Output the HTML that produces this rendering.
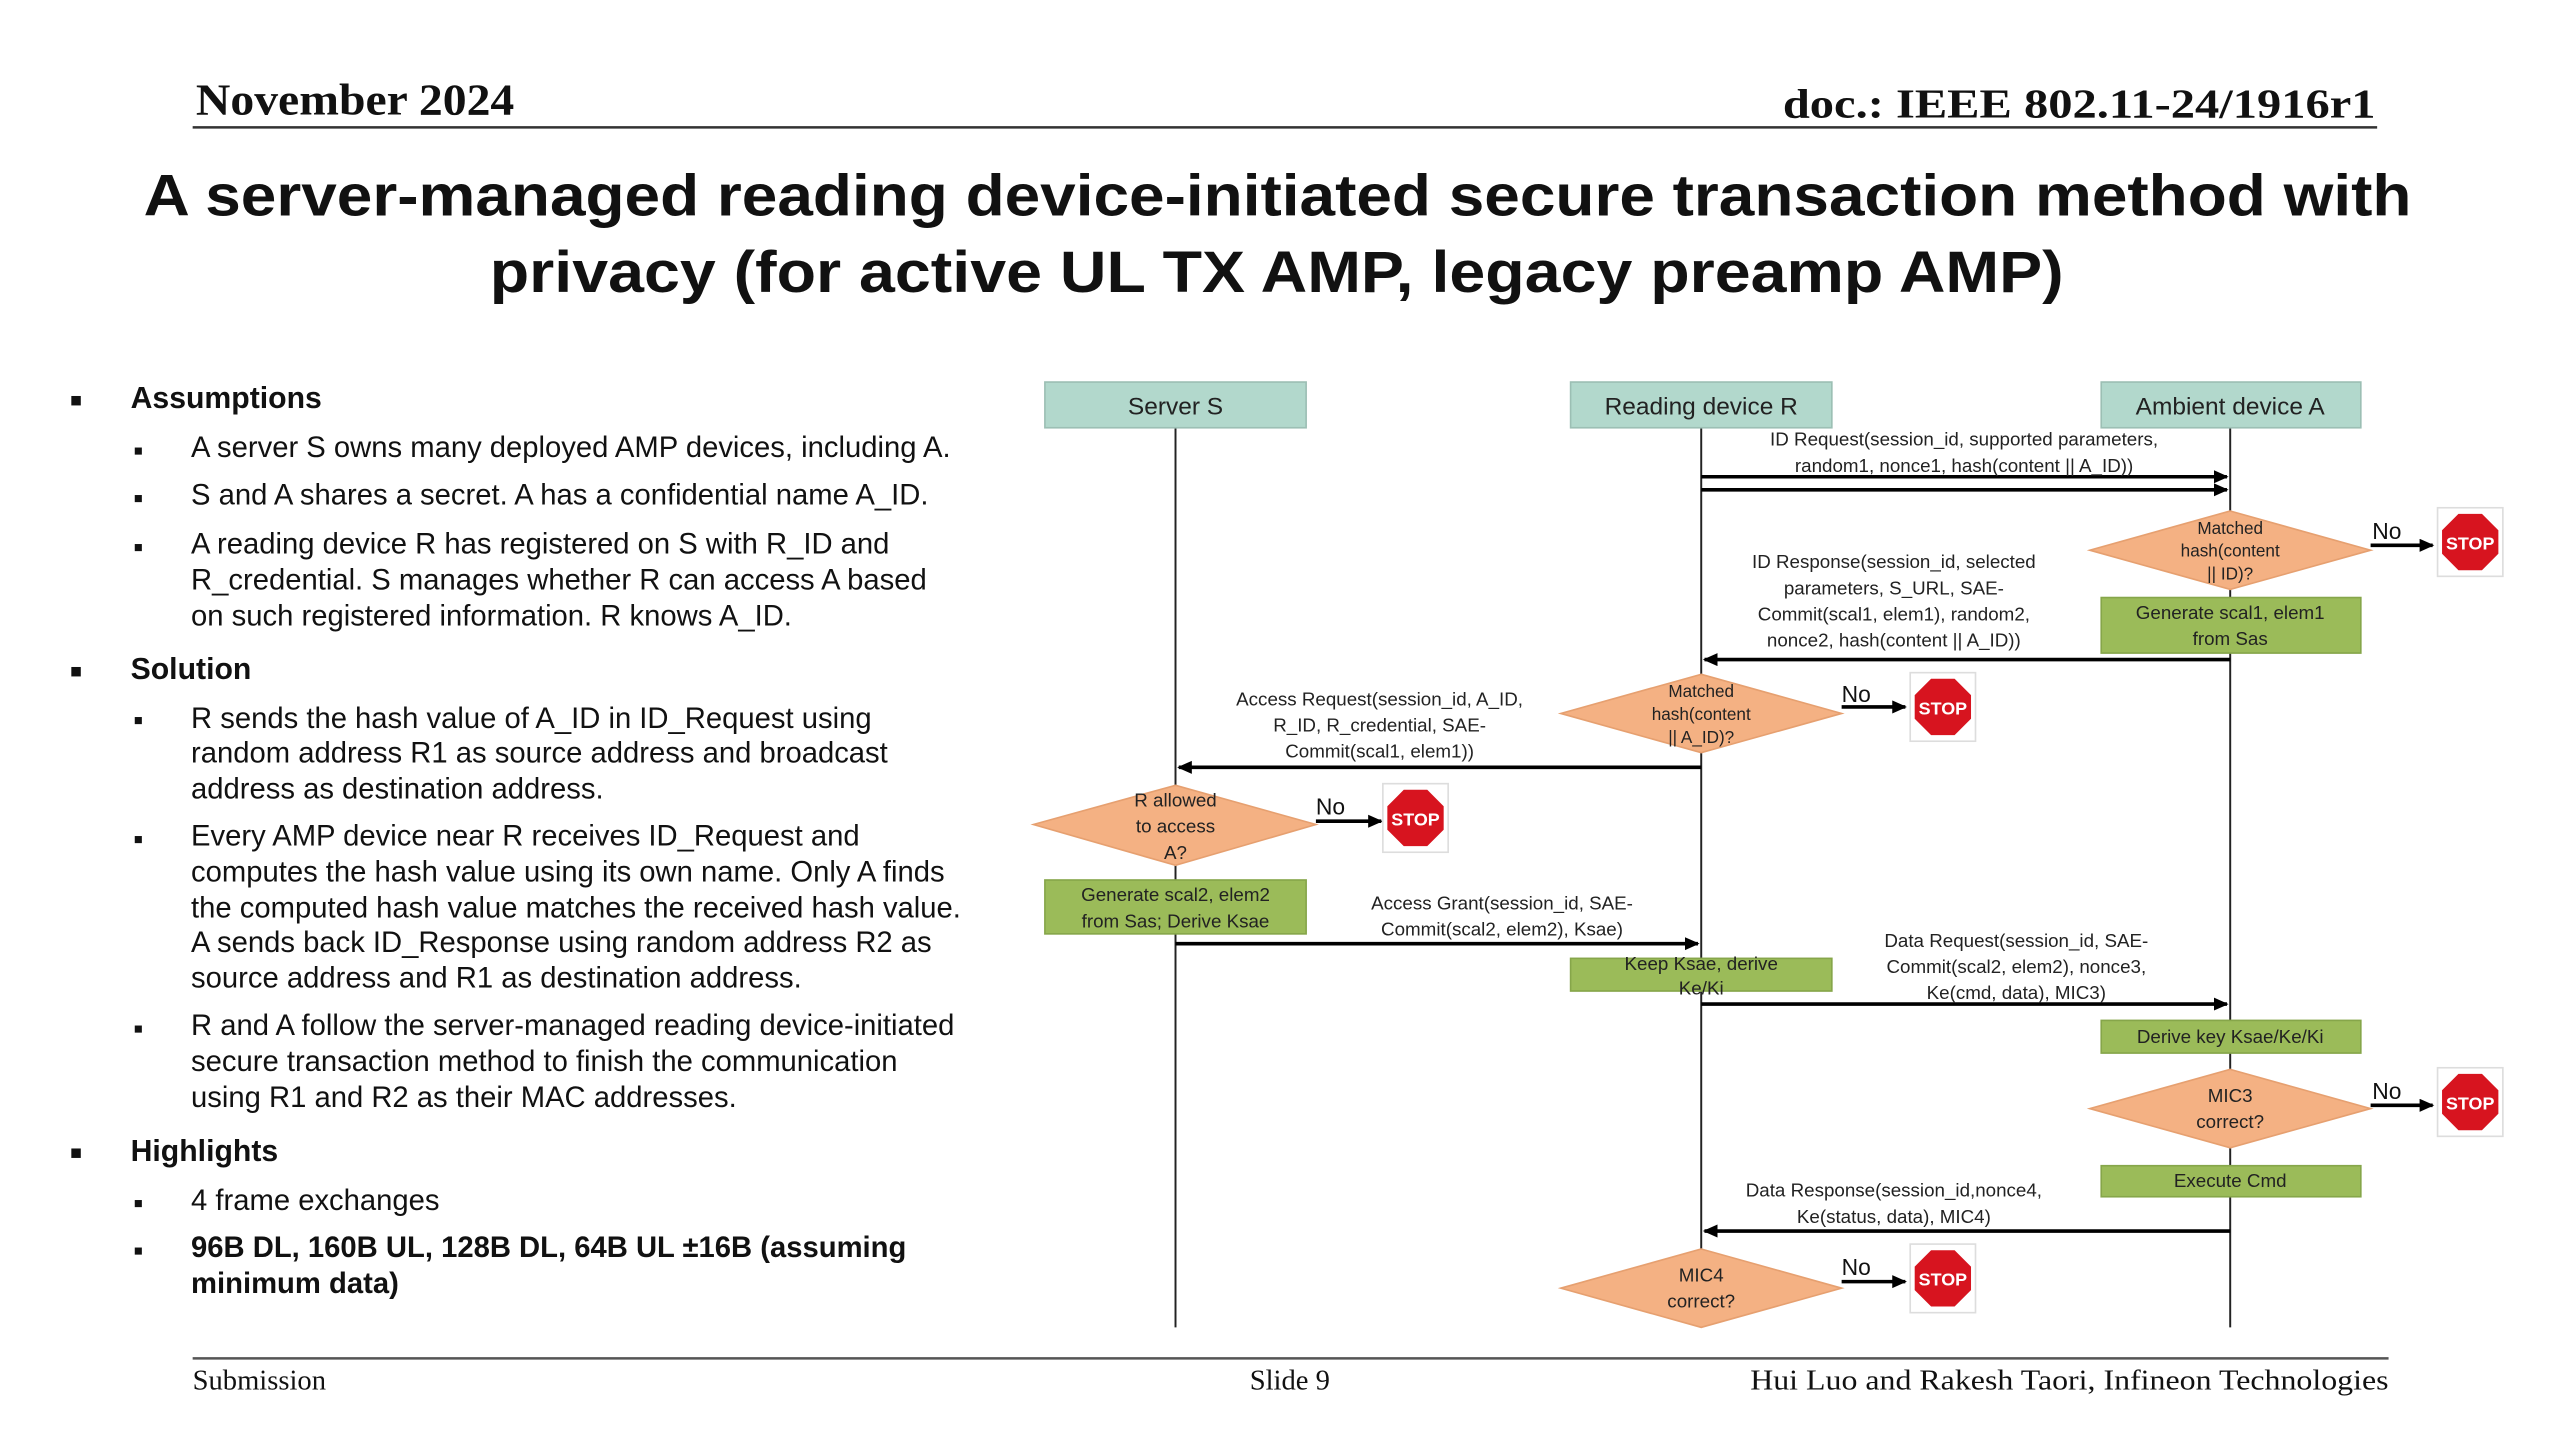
<!DOCTYPE html>
<html><head><meta charset="utf-8"><style>
html,body{margin:0;padding:0;background:#fff;}
svg{display:block;}
.s{font-family:"Liberation Sans",Arial,sans-serif;}
.r{font-family:"Liberation Serif","Times New Roman",serif;}
.d{font-family:"Liberation Sans",Arial,sans-serif;font-size:11.5px;fill:#222;}
.b{font-size:17.9px;fill:#111;}
</style></head><body>
<svg width="2560" height="1440" viewBox="0 0 1568 882" xmlns="http://www.w3.org/2000/svg">
<defs>
<marker id="ar" markerWidth="10" markerHeight="10" refX="8" refY="4" orient="auto" markerUnits="userSpaceOnUse"><path d="M0,0 L9,4 L0,8 z" fill="#000"/></marker>
<g id="stop"><rect x="-20" y="-21" width="40" height="42" fill="#fff" stroke="#ddd"/><polygon points="-7.5,-18 7.5,-18 18,-7.5 18,7.5 7.5,18 -7.5,18 -18,7.5 -18,-7.5" fill="#d7141f" stroke="#fff" stroke-width="1.5"/><text x="0" y="4.5" text-anchor="middle" font-family="Liberation Sans,Arial,sans-serif" font-weight="bold" font-size="11" fill="#fff">STOP</text></g>
</defs>
<!-- header -->
<text x="120" y="70" class="r" font-weight="bold" font-size="27" fill="#111" textLength="195" lengthAdjust="spacingAndGlyphs">November 2024</text>
<text x="1092" y="72" class="r" font-weight="bold" font-size="25" fill="#111" textLength="363" lengthAdjust="spacingAndGlyphs">doc.: IEEE 802.11-24/1916r1</text>
<line x1="118" y1="78" x2="1456" y2="78" stroke="#333" stroke-width="1.5"/>
<text x="88" y="132" class="s" font-weight="bold" font-size="36" fill="#111" textLength="1389" lengthAdjust="spacingAndGlyphs">A server-managed reading device-initiated secure transaction method with</text>
<text x="300" y="179" class="s" font-weight="bold" font-size="36" fill="#111" textLength="964" lengthAdjust="spacingAndGlyphs">privacy (for active UL TX AMP, legacy preamp AMP)</text>
<!-- left text -->
<g class="s">
<g fill="#111" font-size="12"><text x="43" y="249">■</text><text x="43" y="415">■</text><text x="43" y="710">■</text></g>
<g fill="#111" font-size="9"><text x="82" y="279">■</text><text x="82" y="308">■</text><text x="82" y="338">■</text><text x="82" y="444">■</text><text x="82" y="517">■</text><text x="82" y="633">■</text><text x="82" y="740">■</text><text x="82" y="769">■</text></g>
<text x="80" y="250" font-size="18.5" font-weight="bold" fill="#111">Assumptions</text>
<text x="117" y="280" class="b">A server S owns many deployed AMP devices, including A.</text>
<text x="117" y="309" class="b">S and A shares a secret. A has a confidential name A_ID.</text>
<text x="117" y="339" class="b">A reading device R has registered on S with R_ID and</text>
<text x="117" y="361" class="b">R_credential. S manages whether R can access A based</text>
<text x="117" y="383" class="b">on such registered information. R knows A_ID.</text>
<text x="80" y="416" font-size="18.5" font-weight="bold" fill="#111">Solution</text>
<text x="117" y="446" class="b">R sends the hash value of A_ID in ID_Request using</text>
<text x="117" y="467" class="b">random address R1 as source address and broadcast</text>
<text x="117" y="489" class="b">address as destination address.</text>
<text x="117" y="518" class="b">Every AMP device near R receives ID_Request and</text>
<text x="117" y="540" class="b">computes the hash value using its own name. Only A finds</text>
<text x="117" y="562" class="b">the computed hash value matches the received hash value.</text>
<text x="117" y="583" class="b">A sends back ID_Response using random address R2 as</text>
<text x="117" y="605" class="b">source address and R1 as destination address.</text>
<text x="117" y="634" class="b">R and A follow the server-managed reading device-initiated</text>
<text x="117" y="656" class="b">secure transaction method to finish the communication</text>
<text x="117" y="678" class="b">using R1 and R2 as their MAC addresses.</text>
<text x="80" y="711" font-size="18.5" font-weight="bold" fill="#111">Highlights</text>
<text x="117" y="741" class="b">4 frame exchanges</text>
<text x="117" y="770" class="b" font-weight="bold">96B DL, 160B UL, 128B DL, 64B UL ±16B (assuming</text>
<text x="117" y="792" class="b" font-weight="bold">minimum data)</text>
</g>
<!-- footer -->
<line x1="118" y1="832" x2="1463" y2="832" stroke="#555" stroke-width="1.5"/>
<text x="118" y="851" class="r" font-size="17.5" fill="#111">Submission</text>
<text x="790" y="851" class="r" font-size="17.5" fill="#111" text-anchor="middle">Slide 9</text>
<text x="1072" y="851" class="r" font-size="17.5" fill="#111" textLength="391" lengthAdjust="spacingAndGlyphs">Hui Luo and Rakesh Taori, Infineon Technologies</text>
<!-- lifelines -->
<g stroke="#222" stroke-width="1.2"><line x1="720" y1="262" x2="720" y2="813"/><line x1="1042" y1="262" x2="1042" y2="813"/><line x1="1366" y1="262" x2="1366" y2="813"/></g>
<!-- headers -->
<g fill="#b2d8cc" stroke="#9cbfb4"><rect x="640" y="234" width="160" height="28"/><rect x="962" y="234" width="160" height="28"/><rect x="1287" y="234" width="159" height="28"/></g>
<g class="s" font-size="15" fill="#222" text-anchor="middle"><text x="720" y="254">Server S</text><text x="1042" y="254">Reading device R</text><text x="1366" y="254">Ambient device A</text></g>
<!-- arrows -->
<g stroke="#000" stroke-width="2.2" marker-end="url(#ar)">
<line x1="1042" y1="292" x2="1364" y2="292"/>
<line x1="1042" y1="300" x2="1364" y2="300"/>
<line x1="1366" y1="404" x2="1044" y2="404"/>
<line x1="1042" y1="470" x2="722" y2="470"/>
<line x1="720" y1="578" x2="1040" y2="578"/>
<line x1="1042" y1="615" x2="1364" y2="615"/>
<line x1="1366" y1="754" x2="1044" y2="754"/>
<line x1="1452" y1="334" x2="1490" y2="334"/>
<line x1="1128" y1="433" x2="1167" y2="433"/>
<line x1="806" y1="503" x2="846" y2="503"/>
<line x1="1452" y1="677" x2="1490" y2="677"/>
<line x1="1128" y1="785" x2="1167" y2="785"/>
</g>
<!-- diamonds -->
<g fill="#f4b183" stroke="#e6a070">
<polygon points="1366,313 1452,337 1366,361 1280,337"/>
<polygon points="1042,413 1128,437 1042,461 956,437"/>
<polygon points="720,481 806,505 720,530 633,505"/>
<polygon points="1366,655 1452,679 1366,703 1280,679"/>
<polygon points="1042,765 1128,789 1042,813 956,789"/>
</g>
<!-- green boxes -->
<g fill="#9bbb59" stroke="#86a64a">
<rect x="1287" y="366" width="159" height="34"/>
<rect x="640" y="539" width="160" height="33"/>
<rect x="962" y="587" width="160" height="20"/>
<rect x="1287" y="625" width="159" height="20"/>
<rect x="1287" y="714" width="159" height="19"/>
</g>
<!-- stops -->
<use href="#stop" x="1513" y="332"/>
<use href="#stop" x="1190" y="433"/>
<use href="#stop" x="867" y="501"/>
<use href="#stop" x="1513" y="675"/>
<use href="#stop" x="1190" y="783"/>
<g class="s" font-size="14" fill="#111"><text x="1453" y="330">No</text><text x="1128" y="430">No</text><text x="806" y="499">No</text><text x="1453" y="673">No</text><text x="1128" y="781">No</text></g>
<!-- diagram text -->
<g class="d" text-anchor="middle">
<text x="1203" y="273">ID Request(session_id,  supported  parameters,</text>
<text x="1203" y="289">random1, nonce1, hash(content  || A_ID))</text>
<text x="1366" y="327" font-size="10.5">Matched</text><text x="1366" y="341" font-size="10.5">hash(content</text><text x="1366" y="355" font-size="10.5">|| ID)?</text>
<text x="1160" y="348">ID Response(session_id,  selected</text>
<text x="1160" y="364">parameters,  S_URL,  SAE-</text>
<text x="1160" y="380">Commit(scal1,  elem1),  random2,</text>
<text x="1160" y="396">nonce2, hash(content  || A_ID))</text>
<text x="1366" y="379">Generate  scal1, elem1</text><text x="1366" y="395">from Sas</text>
<text x="1042" y="427" font-size="10.5">Matched</text><text x="1042" y="441" font-size="10.5">hash(content</text><text x="1042" y="455" font-size="10.5">|| A_ID)?</text>
<text x="845" y="432">Access Request(session_id,  A_ID,</text>
<text x="845" y="448">R_ID, R_credential,  SAE-</text>
<text x="845" y="464">Commit(scal1,  elem1))</text>
<text x="720" y="494">R allowed</text><text x="720" y="510">to access</text><text x="720" y="526">A?</text>
<text x="720" y="552">Generate  scal2, elem2</text><text x="720" y="568">from Sas; Derive Ksae</text>
<text x="920" y="557">Access Grant(session_id,  SAE-</text>
<text x="920" y="573">Commit(scal2,  elem2),  Ksae)</text>
<text x="1042" y="594">Keep Ksae, derive</text><text x="1042" y="609">Ke/Ki</text>
<text x="1235" y="580">Data Request(session_id,  SAE-</text>
<text x="1235" y="596">Commit(scal2,  elem2), nonce3,</text>
<text x="1235" y="612">Ke(cmd, data), MIC3)</text>
<text x="1366" y="639">Derive key Ksae/Ke/Ki</text>
<text x="1366" y="675">MIC3</text><text x="1366" y="691">correct?</text>
<text x="1366" y="727">Execute Cmd</text>
<text x="1160" y="733">Data Response(session_id,nonce4,</text>
<text x="1160" y="749">Ke(status,  data),  MIC4)</text>
<text x="1042" y="785">MIC4</text><text x="1042" y="801">correct?</text>
</g>
</svg>
</body></html>
